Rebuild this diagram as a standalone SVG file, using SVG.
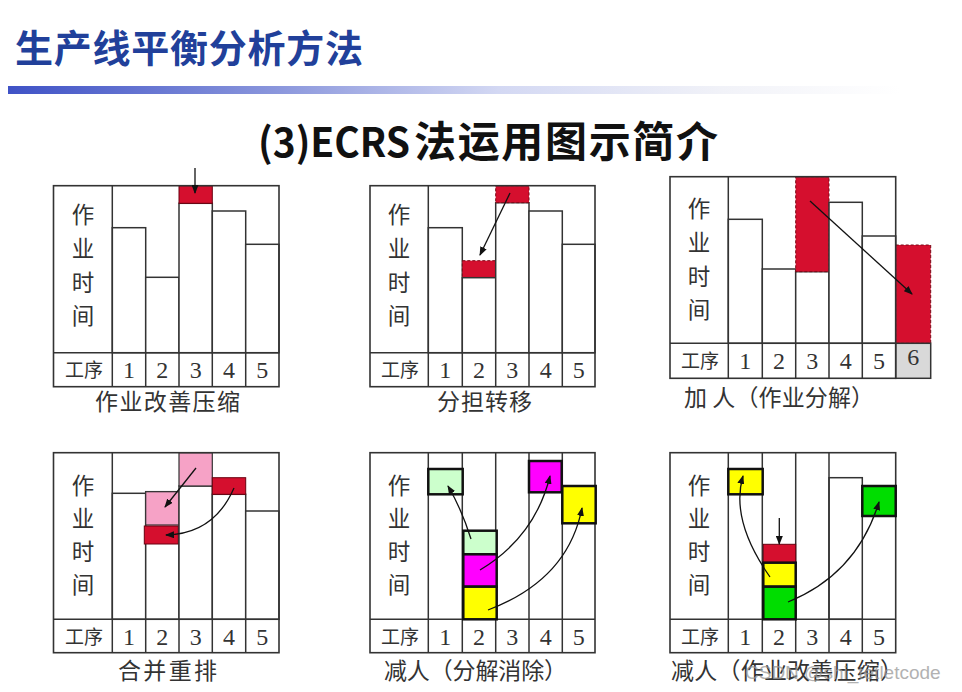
<svg xmlns="http://www.w3.org/2000/svg" width="962" height="692" viewBox="0 0 962 692">
<defs>
<linearGradient id="gbar" x1="8" y1="0" x2="900" y2="0" gradientUnits="userSpaceOnUse">
<stop offset="0" stop-color="#3f52c6"/>
<stop offset="0.3" stop-color="#8a96dc"/>
<stop offset="0.55" stop-color="#d3d8f3"/>
<stop offset="0.8" stop-color="#f1f2f8"/>
<stop offset="1" stop-color="#ffffff"/>
</linearGradient>
<marker id="ah" markerUnits="userSpaceOnUse" markerWidth="9" markerHeight="7" refX="8" refY="3.5" orient="auto">
<path d="M0,0 L9,3.5 L0,7 z" fill="#111"/>
</marker>
<style>
.bar{fill:#fff;stroke:#333;stroke-width:1.5}
.fr{fill:none;stroke:#333;stroke-width:1.6}
.ln{fill:none;stroke:#333;stroke-width:1.5}
.red{fill:#d50f2e;stroke:#6a0010;stroke-width:1}
.dash{stroke-dasharray:3 2;stroke:#7a0a18}
.pink{fill:#f6a2c6;stroke:#333;stroke-width:1.2}
.box{stroke:#111;stroke-width:2.5}
.lg{fill:#ccffcc}.mg{fill:#ff00ff}.yl{fill:#ffff00}.gr{fill:#00dd00}
.lbl{font-family:"Noto Sans CJK SC",sans-serif;font-size:22.5px;fill:#333;text-anchor:middle}
.gx{font-family:"Noto Sans CJK SC",sans-serif;font-size:19px;fill:#333;text-anchor:middle}
.num{font-family:"Liberation Serif",serif;font-size:24px;fill:#333;text-anchor:middle}
.cap{font-family:"Noto Sans CJK SC",sans-serif;font-size:23px;fill:#333}
.arr{fill:none;stroke:#111;stroke-width:1.3;marker-end:url(#ah)}
</style>
</defs>
<rect width="962" height="692" fill="#fff"/>
<g id="title">
<text x="15" y="62" font-family="'Noto Sans CJK SC',sans-serif" font-size="38" font-weight="bold" fill="#21409a" textLength="348">生产线平衡分析方法</text>
<rect x="8" y="86" width="892" height="8" fill="url(#gbar)"/>
</g>
<g id="subtitle">
<text x="258" y="157" font-family="'Noto Sans CJK SC',sans-serif" font-size="40" font-weight="bold" fill="#111"><tspan textLength="152" lengthAdjust="spacingAndGlyphs">(3)ECRS</tspan><tspan x="414" textLength="304" font-size="42">法运用图示简介</tspan></text>
</g>

<g id="panel1">
<rect class="bar" x="112.3" y="227.7" width="33.4" height="125"/>
<rect class="bar" x="145.7" y="277.3" width="33.3" height="75.4"/>
<rect class="bar" x="179" y="203.3" width="33.3" height="149.4"/>
<rect class="red" x="179" y="185.7" width="33.3" height="17.6"/>
<rect class="bar" x="212.3" y="211" width="33.4" height="141.7"/>
<rect class="bar" x="245.7" y="244.3" width="33.3" height="108.4"/>
<rect class="fr" x="53.5" y="185.7" width="225.5" height="201"/>
<path class="ln" d="M112.3,185.7V386.7M53.5,352.7H279M145.7,352.7V386.7M179,352.7V386.7M212.3,352.7V386.7M245.7,352.7V386.7"/>
<text class="lbl" x="83" y="223">作</text><text class="lbl" x="83" y="257">业</text><text class="lbl" x="83" y="291">时</text><text class="lbl" x="83" y="324">间</text>
<text class="gx" x="84" y="377">工序</text>
<text class="num" x="129" y="378">1</text><text class="num" x="162.3" y="378">2</text><text class="num" x="195.7" y="378">3</text><text class="num" x="229" y="378">4</text><text class="num" x="262.3" y="378">5</text>
<text class="cap" x="95" y="410" textLength="145">作业改善压缩</text>
</g>

<g id="panel2">
<rect class="bar" x="428.3" y="227.7" width="34" height="125"/>
<rect class="red dash" x="462.3" y="260.7" width="33.4" height="17"/>
<rect class="bar" x="462.3" y="277.7" width="33.4" height="75"/>
<rect class="bar" x="495.7" y="202.7" width="33.3" height="150"/>
<rect class="red dash" x="495.7" y="185.7" width="33.3" height="17"/>
<rect class="bar" x="529" y="211" width="33.3" height="141.7"/>
<rect class="bar" x="562.3" y="244.3" width="32.7" height="108.4"/>
<rect class="fr" x="370" y="185.7" width="225" height="201"/>
<path class="ln" d="M428.3,185.7V386.7M370,352.7H595M462.3,352.7V386.7M495.7,352.7V386.7M529,352.7V386.7M562.3,352.7V386.7"/>
<text class="lbl" x="399" y="223">作</text><text class="lbl" x="399" y="257">业</text><text class="lbl" x="399" y="291">时</text><text class="lbl" x="399" y="324">间</text>
<text class="gx" x="400" y="377">工序</text>
<text class="num" x="445.3" y="378">1</text><text class="num" x="479" y="378">2</text><text class="num" x="512.3" y="378">3</text><text class="num" x="545.7" y="378">4</text><text class="num" x="578.7" y="378">5</text>
<text class="cap" x="437" y="410" textLength="95">分担转移</text>
</g>

<g id="panel3">
<rect class="bar" x="728.3" y="219.3" width="34" height="124"/>
<rect class="bar" x="762.3" y="269" width="33.4" height="74.3"/>
<rect class="bar" x="795.7" y="271.7" width="33.3" height="71.6"/>
<rect class="red dash" x="795.7" y="176.7" width="33.3" height="95"/>
<rect class="bar" x="829" y="202.3" width="33.3" height="141"/>
<rect class="bar" x="862.3" y="236" width="33.4" height="107.3"/>
<rect class="red dash" x="895.7" y="245" width="35" height="98.3"/>
<rect x="895.7" y="343.3" width="35" height="35" fill="#d9d9d9" stroke="#333" stroke-width="1.5"/>
<rect class="fr" x="670" y="176.7" width="225.7" height="201.6"/>
<path class="ln" d="M728.3,176.7V378.3M670,343.3H895.7M762.3,343.3V378.3M795.7,343.3V378.3M829,343.3V378.3M862.3,343.3V378.3"/>
<text class="lbl" x="699" y="217">作</text><text class="lbl" x="699" y="251">业</text><text class="lbl" x="699" y="285">时</text><text class="lbl" x="699" y="318">间</text>
<text class="gx" x="700" y="368">工序</text>
<text class="num" x="745.3" y="369">1</text><text class="num" x="779" y="369">2</text><text class="num" x="812.3" y="369">3</text><text class="num" x="845.7" y="369">4</text><text class="num" x="879" y="369">5</text><text class="num" x="913.2" y="365">6</text>
<text class="cap" x="684" y="406" textLength="190">加 人（作业分解）</text>
</g>

<g id="panel4">
<rect class="bar" x="112.3" y="493.3" width="33.4" height="126"/>
<rect class="bar" x="145.7" y="491.7" width="33.3" height="127.6"/>
<rect class="pink" x="145.7" y="491.7" width="33.3" height="33.3"/>
<rect class="red" x="144.3" y="526" width="34" height="18" stroke="#111" stroke-width="2"/>
<rect class="bar" x="179" y="486" width="33.3" height="133.3"/>
<rect class="pink" x="179" y="452.7" width="33.3" height="33.3"/>
<rect class="bar" x="212.3" y="494.3" width="33.4" height="125"/>
<rect class="red" x="212.3" y="477.7" width="33.4" height="16.6"/>
<rect class="bar" x="245.7" y="511" width="33.3" height="108.3"/>
<rect class="fr" x="53.5" y="452.7" width="225.5" height="200"/>
<path class="ln" d="M112.3,452.7V652.7M53.5,619.3H279M145.7,619.3V652.7M179,619.3V652.7M212.3,619.3V652.7M245.7,619.3V652.7"/>
<text class="lbl" x="83" y="494">作</text><text class="lbl" x="83" y="527">业</text><text class="lbl" x="83" y="560">时</text><text class="lbl" x="83" y="593">间</text>
<text class="gx" x="84" y="644">工序</text>
<text class="num" x="129" y="645">1</text><text class="num" x="162.3" y="645">2</text><text class="num" x="195.7" y="645">3</text><text class="num" x="229" y="645">4</text><text class="num" x="262.3" y="645">5</text>
<text class="cap" x="118" y="679" textLength="99">合并重排</text>
</g>

<g id="panel5">
<rect class="fr" x="370" y="452.7" width="225" height="200"/>
<path class="ln" d="M428.3,452.7V652.7M462.3,452.7V652.7M495.7,452.7V652.7M529,452.7V652.7M562.3,452.7V652.7M370,619.3H595"/>
<rect class="box lg" x="428.3" y="469" width="34.4" height="25.3"/>
<rect class="box lg" x="463.3" y="530.7" width="33.4" height="23.6"/>
<rect class="box mg" x="463.3" y="554.3" width="33.4" height="32.4"/>
<rect class="box yl" x="463.3" y="586.7" width="33.4" height="32.6"/>
<rect class="box mg" x="529" y="461" width="32.7" height="31.3"/>
<rect class="box yl" x="562.3" y="486" width="33.4" height="37.3"/>
<text class="lbl" x="399" y="494">作</text><text class="lbl" x="399" y="527">业</text><text class="lbl" x="399" y="560">时</text><text class="lbl" x="399" y="593">间</text>
<text class="gx" x="400" y="644">工序</text>
<text class="num" x="445.3" y="645">1</text><text class="num" x="479" y="645">2</text><text class="num" x="512.3" y="645">3</text><text class="num" x="545.7" y="645">4</text><text class="num" x="578.7" y="645">5</text>
<text class="cap" x="384" y="679" textLength="183">减人（分解消除）</text>
</g>

<g id="panel6">
<rect class="bar" x="829" y="477.7" width="33.3" height="141.6"/>
<rect class="fr" x="670" y="452.7" width="225.7" height="200"/>
<path class="ln" d="M728.3,452.7V652.7M762.3,452.7V652.7M795.7,452.7V652.7M829,452.7V652.7M670,619.3H895.7M862.3,619.3V652.7"/>
<rect class="box yl" x="728.3" y="469" width="34.4" height="25.3"/>
<rect class="red" x="763.3" y="544.3" width="32.4" height="18" stroke="#333"/>
<rect class="box yl" x="763.3" y="562.7" width="32.4" height="24"/>
<rect class="box gr" x="763.3" y="586.7" width="32.4" height="32.6"/>
<rect class="box gr" x="862.3" y="486" width="33.4" height="30"/>
<text class="lbl" x="699" y="494">作</text><text class="lbl" x="699" y="527">业</text><text class="lbl" x="699" y="560">时</text><text class="lbl" x="699" y="593">间</text>
<text class="gx" x="700" y="644">工序</text>
<text class="num" x="745.3" y="645">1</text><text class="num" x="779" y="645">2</text><text class="num" x="812.3" y="645">3</text><text class="num" x="845.7" y="645">4</text><text class="num" x="879" y="645">5</text>
<text class="cap" x="671" y="679" textLength="232">减人（作业改善压缩）</text>
<text x="745" y="679" font-family="'Liberation Sans',sans-serif" font-size="19" fill="#999" opacity="0.75">CSDN @shi_tetletcode</text>
</g>

<g id="connectors">
<path class="arr" d="M195,168V193"/>
<path class="arr" d="M510,193L480,255"/>
<path class="arr" d="M810,201L912,294"/>
<path class="arr" d="M196,468L165,507"/>
<path class="arr" d="M234,488Q214,534 166,535"/>
<path class="arr" d="M471,539Q462,510 448,486"/>
<path class="arr" d="M480,570Q535,537 550,476"/>
<path class="arr" d="M488,610Q568,580 582,508"/>
<path class="arr" d="M779.3,518V544"/>
<path class="arr" d="M770,577Q730,520 743,476"/>
<path class="arr" d="M788,602Q857,574 879,502"/>
</g>
</svg>
